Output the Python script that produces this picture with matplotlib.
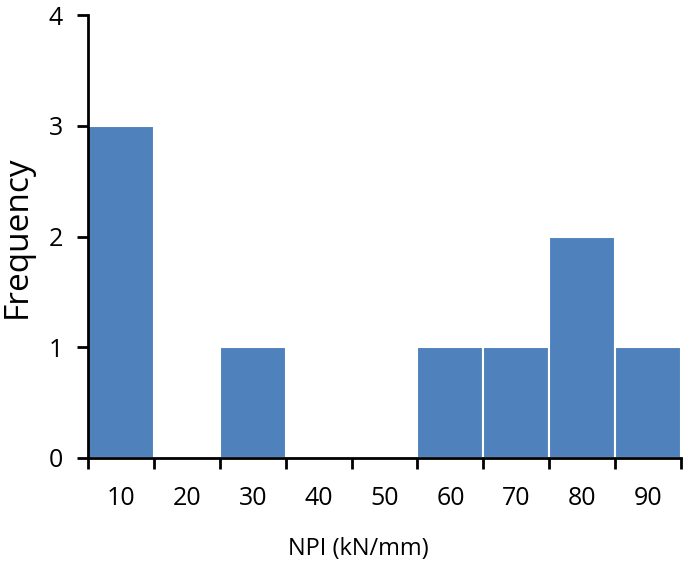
import matplotlib
matplotlib.use("Agg")
import matplotlib.pyplot as plt
import numpy as np

plt.rcParams['font.family'] = ['Open Sans', 'DejaVu Sans']

bin_centers = [10, 20, 30, 40, 50, 60, 70, 80, 90]
frequency = [3, 0, 1, 0, 0, 1, 1, 2, 1]
x_label = "NPI (kN/mm)"
y_label = "Frequency"

fig = plt.figure(figsize=(6.85, 5.73), dpi=100)
ax = fig.add_axes([0.1285, 0.2007, 0.9942 - 0.1285, 0.9738 - 0.2007])

ax.bar(bin_centers, frequency, width=10, color="#4F81BD", edgecolor="white", linewidth=1.5)

ax.set_xlim(5, 95)
ax.set_ylim(0, 4)
ax.set_yticks([0, 1, 2, 3, 4])
ax.set_xticks(np.arange(5, 96, 10))
ax.set_xticklabels([])
ax.set_xticks(bin_centers, minor=True)
ax.set_xticklabels([str(c) for c in bin_centers], minor=True, fontsize=18)
ax.tick_params(axis='x', which='minor', length=0, pad=20)
ax.tick_params(axis='x', which='major', length=8, width=2, direction='out')
ax.tick_params(axis='y', length=8, width=2, direction='out', labelsize=18, pad=10)

for s in ['top', 'right']:
    ax.spines[s].set_visible(False)
for s in ['left', 'bottom']:
    ax.spines[s].set_linewidth(2)

ax.set_xlabel(x_label, fontsize=17)
ax.xaxis.set_label_coords(0.455, -0.178)
ax.set_ylabel(y_label, fontsize=24)
ax.yaxis.set_label_coords(-0.092, 0.5)

fig.savefig("out.png", dpi=100)
